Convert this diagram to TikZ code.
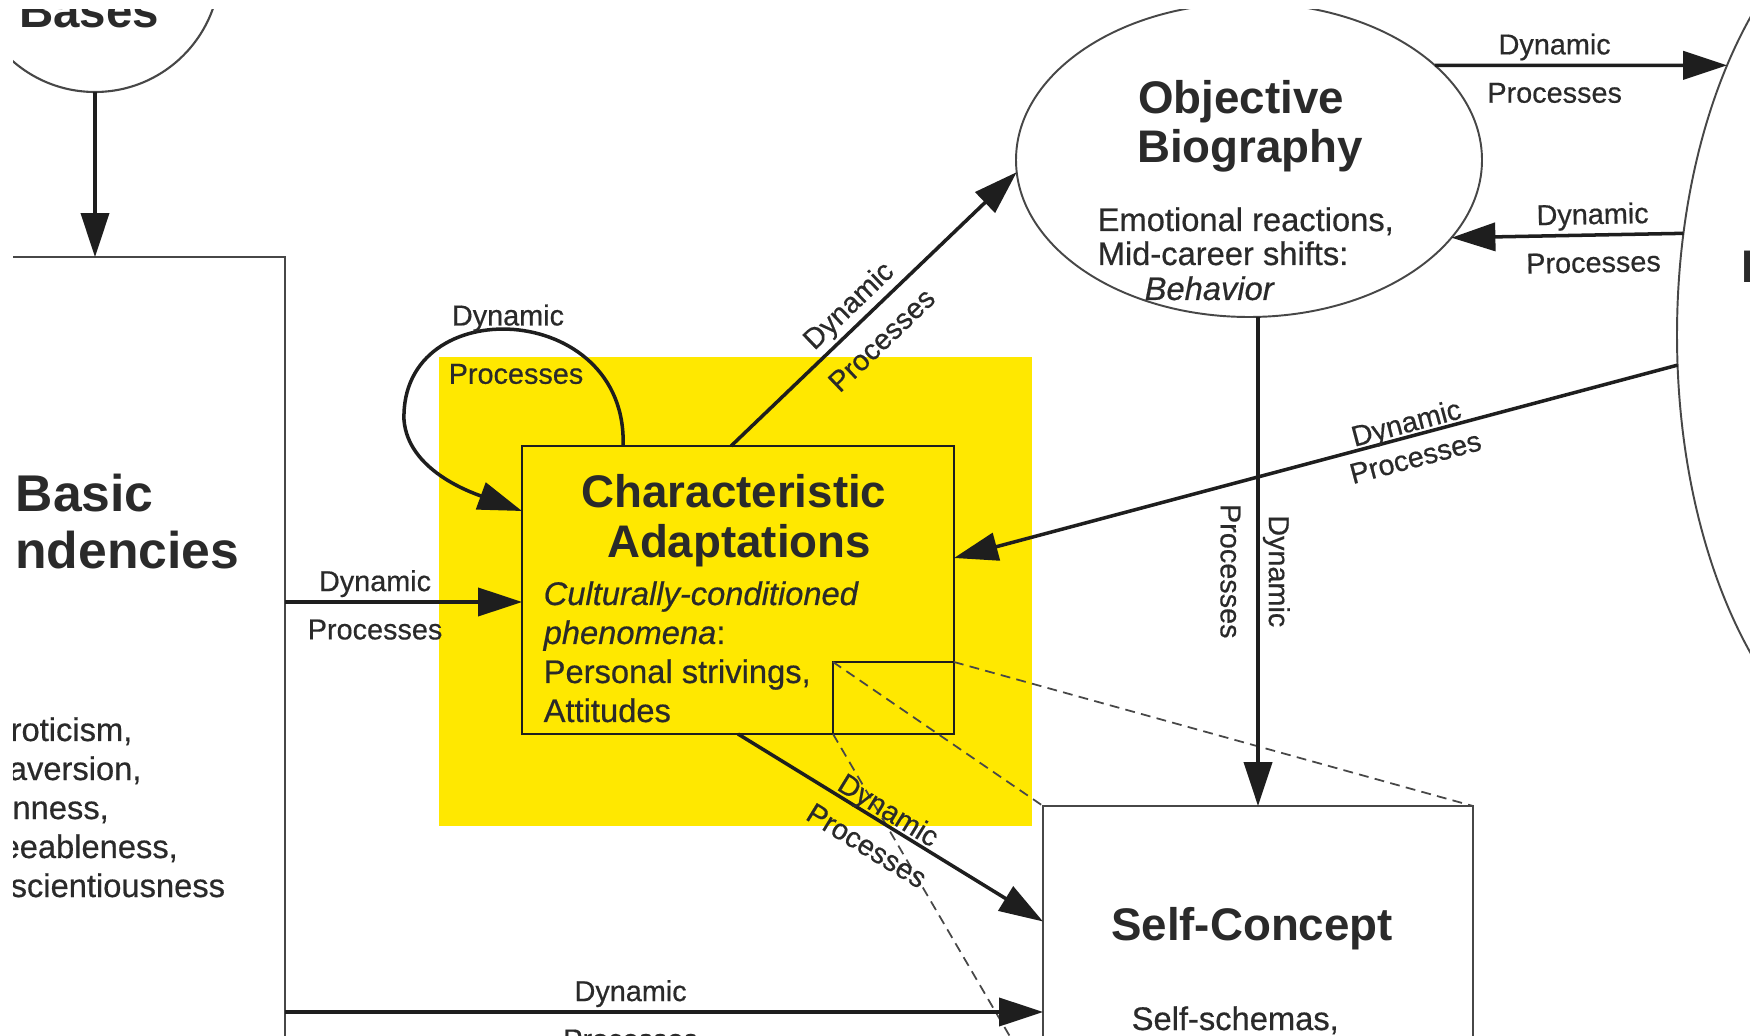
\documentclass[tikz,border=0pt]{standalone}
\usepackage{fontspec}
\setmainfont{Liberation Sans}[UprightFeatures={FakeBold=0.5},ItalicFeatures={FakeBold=0.5}]
\usetikzlibrary{arrows.meta,shapes.geometric,calc}
\definecolor{hilite}{RGB}{255,232,0}
\definecolor{ink}{HTML}{1E1E1E}
\definecolor{txt}{HTML}{2A2A2A}
\definecolor{frame}{HTML}{474747}

\begin{document}
\begin{tikzpicture}[x=0.1mm,y=-0.1mm,
  ttl/.style={font=\bfseries\fontsize{13pt}{14pt}\selectfont, text=txt, inner sep=0pt, anchor=base},
  bigttl/.style={ttl, font=\bfseries\fontsize{14.7pt}{16pt}\selectfont},
  body/.style={font=\fontsize{9.3pt}{11pt}\selectfont, text=txt, inner sep=0pt, anchor=base west},
  lab/.style={font=\fontsize{8.2pt}{9pt}\selectfont, text=txt},
  labup/.style={lab, sloped, anchor=south, inner sep=0pt, inner ysep=0.9pt},
  labdn/.style={lab, sloped, anchor=north, inner xsep=0pt, inner ysep=4.5pt},
  conn/.style={draw=ink, line width=1pt, -{Triangle[length=12.5pt,width=8pt]}},
  boxf/.style={rectangle, draw=frame, line width=0.7pt, inner sep=0pt, outer sep=0pt},
  ovalf/.style={ellipse, draw=frame, line width=0.55pt, inner sep=0pt, outer sep=0pt},
  zoomline/.style={draw=frame, line width=0.5pt, dash pattern=on 2.8pt off 1.8pt}
]
\useasboundingbox (0,0) rectangle (1750,1036);
\fill[white] (0,0) rectangle (1750,1036);

\begin{scope}
\clip (13,10) rectangle (1750,1036);

% highlighted area behind the adaptations box
\node[fill=hilite, minimum width=59.3mm, minimum height=46.9mm, inner sep=0pt, outer sep=0pt] (hl) at (735.5,591.5) {};

% rows used by horizontal connectors
\coordinate (r1) at (0,602);
\coordinate (r2) at (0,1012);
\coordinate (r3) at (0,511);

% Biological bases
\node[circle, draw=frame, line width=0.6pt, minimum size=25mm, inner sep=0pt, outer sep=0pt] (bio) at (95,-33) {};
\node[bigttl, font=\bfseries\fontsize{13.5pt}{15pt}\selectfont] (biot) at (89,28) {Bases};

% Basic tendencies
\node[boxf, minimum width=38mm, minimum height=99.3mm] (bt) at (95,753.5) {};
\node[bigttl, anchor=base west] (btt1) at (15,512) {Basic};
\node[bigttl, anchor=base east] (btt2) at (240,569) {Tendencies};
\node[body] (bt1) at (-50,741) {Neuroticism,};
\node[body] (bt2) at (-50,780) {Extraversion,};
\node[body] (bt3) at (-50,819) {Openness,};
\node[body] (bt4) at (-50,858) {Agreeableness,};
\node[body] (bt5) at (-50,897) {Conscientiousness};

% Characteristic adaptations
\node[boxf, draw=ink, fill=hilite, minimum width=43.2mm, minimum height=28.8mm] (ca) at (738,590) {};
\node[ttl] (cat1) at (734,508) {Characteristic};
\node[ttl] (cat2) at (739,558) {Adaptations};
\node[body] (ca1) at (543,605) {\itshape Culturally-conditioned};
\node[body] (ca2) at (543,644) {\textit{phenomena}:};
\node[body] (ca3) at (543,683) {Personal strivings,};
\node[body] (ca4) at (543,722) {Attitudes};
\node[boxf, draw=ink, minimum width=12.1mm, minimum height=7.2mm] (sq) at (893.5,698) {};

% Self-concept
\node[boxf, fill=white, minimum width=43mm, minimum height=28.7mm] (sc) at (1258,949.5) {};
\node[ttl] (sct) at (1252,940) {Self-Concept};
\node[body] (sc1) at (1131,1030) {Self-schemas,};

% Objective biography
\node[ovalf, fill=white, minimum width=46.6mm, minimum height=31.4mm] (ob) at (1249,160) {};
\node[ttl] (obt1) at (1241,114) {Objective};
\node[ttl] (obt2) at (1250,163) {Biography};
\node[body] (ob1) at (1097,231) {Emotional reactions,};
\node[body] (ob2) at (1097,265) {Mid-career shifts:};
\node[body] (ob3) at (1144,300) {\itshape Behavior};

% External influences
\node[ovalf, minimum width=49.2mm, minimum height=89.2mm] (ext) at (1923,335) {};
\node[ttl, anchor=base west] (extt) at (1741,283) {External};

% dashed zoom lines from the small square to the self-concept box
\draw[zoomline] (sq.north west) -- (sc.north west);
\draw[zoomline] (sq.north east) -- (sc.north east);
\draw[zoomline] (sq.south west) -- (sc.south west);

% connectors
\draw[conn] (bio.south) -- (bt.north);

\draw[conn] (bt.east |- r1) -- (ca.west |- r1)
  node[labup, pos=.38] {Dynamic} node[labdn, pos=.38] {Processes};

\draw[conn] (bt.east |- r2) -- (sc.west |- r2)
  node[labup, pos=.456] {Dynamic} node[labdn, pos=.456] {Processes};

\draw[conn] ($(ca.north west)!0.234!(ca.north east)$)
  .. controls (628,300) and (400,290) .. (404,420)
  .. controls (408,470) and (470,492) .. (ca.west |- r3);
\node[lab] (lp1) at (508,318) {Dynamic};
\node[lab] (lp2) at (516,374) {Processes};

\draw[conn] ($(ca.north west)!0.484!(ca.north east)$) -- (ob.183.2)
  node[labup, pos=.46] {Dynamic} node[labdn, pos=.46] {Processes};

\draw[conn] (ca.south) -- ($(sc.west)+(0,-28)$)
  node[labup, pos=.47, inner ysep=-1pt] {Dynamic} node[labdn, pos=.47] {Processes};

\draw[conn] (ob.south -| sc.north) -- (sc.north)
  node[labup, pos=.52] {Dynamic} node[labdn, pos=.52] {Processes};

\draw[conn] (ob.27) -- (ext.126)
  node[labup, pos=.41] {Dynamic} node[labdn, pos=.41] {Processes};

\draw[conn] (ext.157.8) -- (ob.339.2)
  node[labup, pos=.39] {Dynamic} node[labdn, pos=.39] {Processes};

\draw[conn] (ext.187.7) -- ($(ca.east)+(0,-32)$)
  node[labup, pos=.37, inner ysep=-1pt] {Dynamic} node[labdn, pos=.37, inner ysep=2.8pt] {Processes};

\end{scope}
\end{tikzpicture}
\end{document}
